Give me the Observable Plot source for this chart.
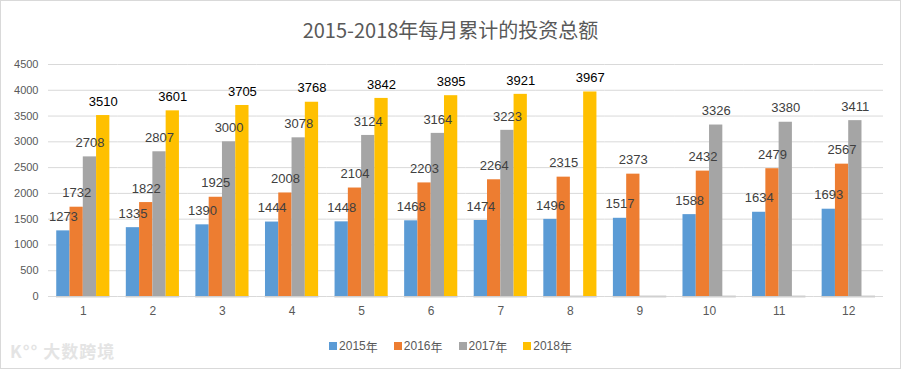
<!DOCTYPE html>
<html>
<head>
<meta charset="utf-8">
<script src="https://cdn.jsdelivr.net/npm/d3@7"></script>
<script src="https://cdn.jsdelivr.net/npm/@observablehq/plot@0.6"></script>
<style>
  body { margin: 0; background: #fff; }
  #wrap { position: relative; width: 901px; height: 369px; background: #fff; font-family: "Liberation Sans", Arial, sans-serif; overflow: hidden; }
  #frame { position: absolute; left: 0; top: 0; width: 899px; height: 367px; border: 1px solid #d9d9d9; pointer-events: none; }
  #title { height: 48px; box-sizing: border-box; padding-top: 12px; line-height: 36px; text-align: center; font-family: "Noto Sans CJK SC", sans-serif; font-size: 20px; color: #595959; }
  #legend { position: absolute; left: 0; top: 328px; width: 901px; height: 36px; display: flex; justify-content: center; align-items: center; font-size: 12px; color: #595959; font-family: "Liberation Sans", "Noto Sans CJK SC", sans-serif; }
  #legend .item { display: flex; align-items: center; margin: 0 8px; }
  #legend .sw { width: 8px; height: 8px; margin-right: 2px; }
  #legend .lab { font-family: "Liberation Sans", sans-serif; }
  #legend .cjk { font-family: "Noto Sans CJK SC", sans-serif; }
  #wm { position: absolute; left: 10px; top: 338px; font-family: "Noto Sans CJK SC", sans-serif; font-size: 17px; color: #e4e4e4; font-weight: bold; letter-spacing: 1px; }
</style>
</head>
<body>
<div id="wrap">
  <div id="title">2015-2018年每月累计的投资总额</div>
  <div id="chart"></div>
  <div id="legend"></div>
  <div id="wm">K°° 大数跨境</div>
  <div id="frame"></div>
</div>
<script>
const months = [1, 2, 3, 4, 5, 6, 7, 8, 9, 10, 11, 12];
const years = ["2015年", "2016年", "2017年", "2018年"];
const v2015 = [1273, 1335, 1390, 1444, 1448, 1468, 1474, 1496, 1517, 1588, 1634, 1693];
const v2016 = [1732, 1822, 1925, 2008, 2104, 2203, 2264, 2315, 2373, 2432, 2479, 2567];
const v2017 = [2708, 2807, 3000, 3078, 3124, 3164, 3223, null, null, 3326, 3380, 3411];
const v2018 = [3510, 3601, 3705, 3768, 3842, 3895, 3921, 3967, null, null, null, null];
const yTicks = [0, 500, 1000, 1500, 2000, 2500, 3000, 3500, 4000, 4500];
const colors = ["#5B9BD5", "#ED7D31", "#A5A5A5", "#FFC000"];

const series = [v2015, v2016, v2017, v2018];
const data = [];
months.forEach((m, i) => {
  series.forEach((s, j) => {
    if (s[i] != null) data.push({month: m, year: years[j], value: s[i]});
  });
});

const chart = Plot.plot({
  width: 901,
  height: 280,
  marginTop: 16,
  marginBottom: 32,
  marginLeft: 48,
  marginRight: 18,
  style: {fontFamily: "Liberation Sans, Arial, sans-serif", background: "transparent"},
  fx: {domain: months, padding: 0, round: false, label: null},
  x: {domain: years, axis: null, paddingInner: 0, paddingOuter: 0.62, round: false},
  y: {domain: [0, 4500], label: null},
  color: {domain: years, range: colors},
  marks: [
    Plot.gridY(yTicks, {stroke: "#d9d9d9", strokeOpacity: 1}),
    Plot.ruleY([0], {stroke: "#d0d0d0", strokeWidth: 2, insetLeft: 8, insetRight: 8}),
    Plot.barY(data, {fx: "month", x: "year", y: "value", fill: "year", inset: 0}),
    Plot.text(data, {
      fx: "month", x: "year", y: "value", text: d => String(d.value),
      dy: -14, fontSize: 13,
      fill: d => d.year === "2018年" ? "#000000" : "#404040"
    }),
    Plot.axisY(yTicks, {tickSize: 0, tickPadding: 10, fontSize: 11, fill: "#595959", label: null, tickFormat: d => String(d)}),
    Plot.axisFx({anchor: "bottom", tickSize: 0, tickPadding: 10, fontSize: 12, fill: "#595959", label: null})
  ]
});
document.getElementById("chart").appendChild(chart);

const legend = document.getElementById("legend");
years.forEach((y, i) => {
  const item = document.createElement("div");
  item.className = "item";
  item.innerHTML = `<span class="sw" style="background:${colors[i]}"></span><span class="lab">${y.slice(0, 4)}</span><span class="cjk">${y.slice(4)}</span>`;
  legend.appendChild(item);
});
</script>
</body>
</html>
